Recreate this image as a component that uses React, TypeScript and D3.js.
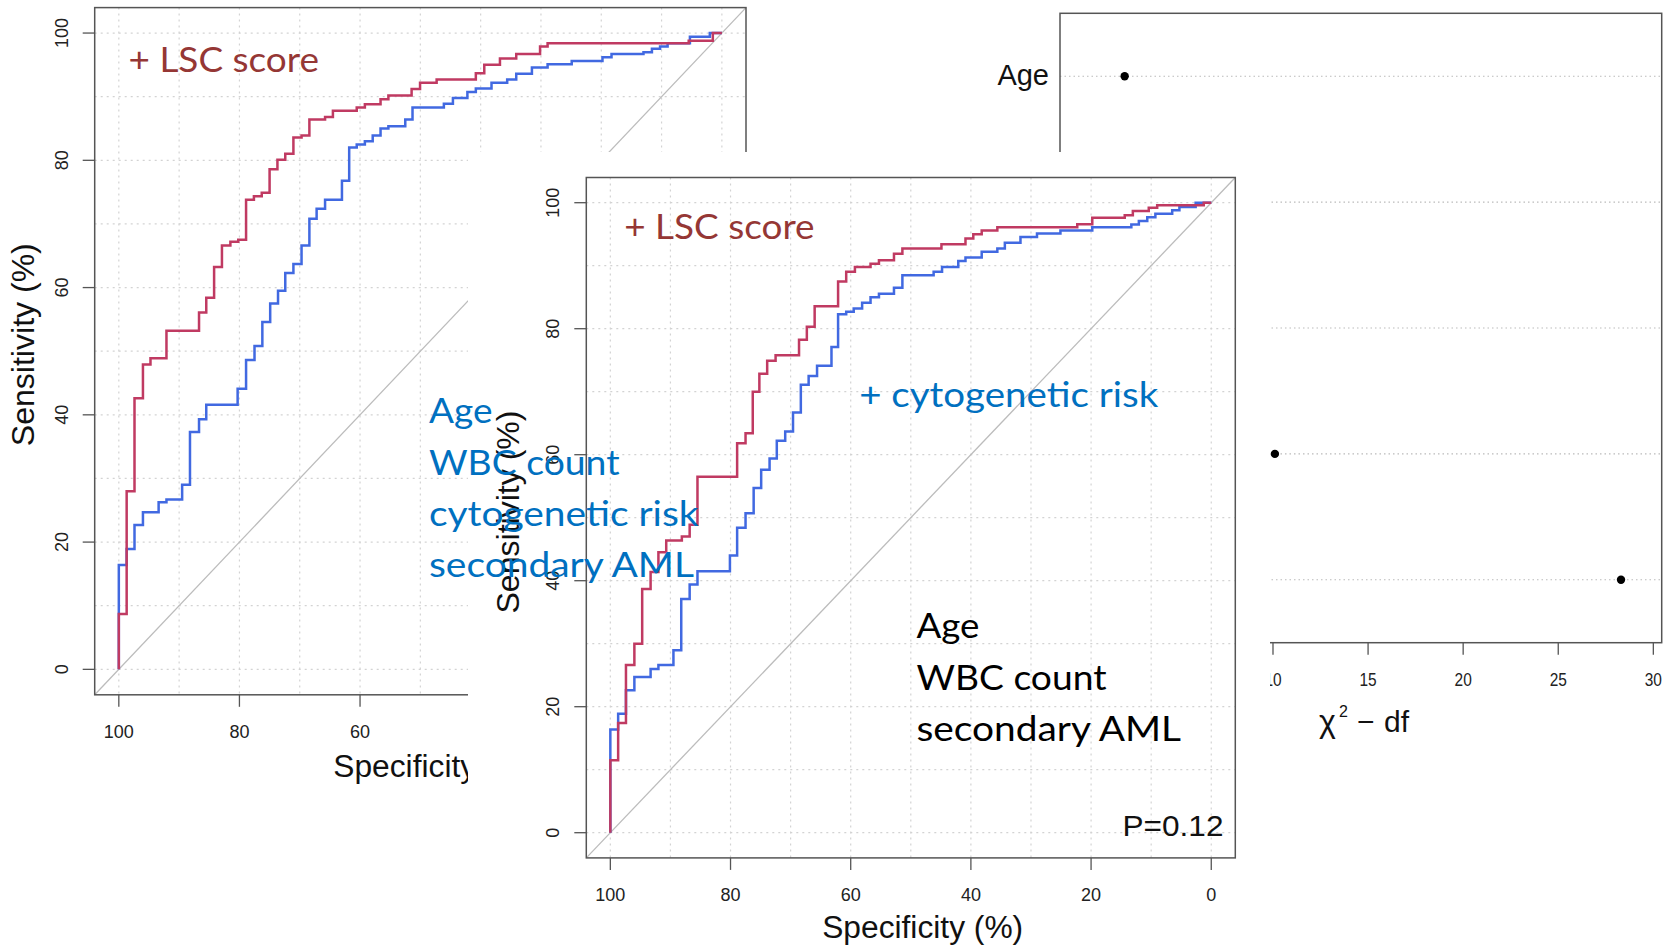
import React, { useEffect } from 'react';
import * as d3 from 'd3';

// ---------- data ----------
const specTicks = [100, 80, 60, 40, 20, 0];
const sensTicks = [0, 20, 40, 60, 80, 100];
const gridLevels = [0, 10, 20, 30, 40, 50, 60, 70, 80, 90, 100];

// Panel A: base model (Age, WBC count, cytogenetic risk, secondary AML) vs + LSC score
const aLscSpec = [100, 100, 98.7, 97.4, 96.0, 94.75, 92.1, 86.7, 85.5, 84.2, 82.9, 81.5, 80.2, 78.9, 77.6, 76.3, 75.0, 73.7, 72.4, 71.05, 69.7, 68.4, 65.8, 64.5, 60.55, 59.2, 56.6, 55.3, 51.45, 50.05, 47.3, 40.8, 39.4, 36.8, 34.1, 30.15, 28.9, 5.5, 1.5, 0];
const aLscSens = [0, 8.7, 28.0, 42.6, 47.9, 48.9, 53.2, 56.1, 58.4, 63.25, 66.6, 67.2, 67.5, 73.8, 74.35, 74.9, 78.6, 80.1, 81.05, 83.6, 83.9, 86.4, 86.8, 87.8, 88.3, 88.8, 89.6, 90.2, 91.2, 92.2, 92.7, 93.7, 95.0, 96.0, 96.7, 97.9, 98.4, 98.8, 100, 100];
const aBaseSpec = [100, 100, 98.7, 97.4, 96.0, 93.4, 92.1, 89.5, 88.2, 86.7, 85.5, 80.3, 78.9, 77.5, 76.2, 74.9, 73.6, 72.4, 71.05, 69.7, 68.4, 67.2, 65.8, 63.0, 61.8, 60.55, 59.2, 57.9, 56.6, 55.3, 52.5, 51.3, 46.1, 44.6, 42.2, 40.8, 38.2, 35.6, 34.1, 31.5, 28.9, 24.9, 19.8, 18.3, 13.0, 11.6, 10.25, 9.0, 5.3, 2.0, 0];
const aBaseSens = [0, 16.4, 18.9, 22.7, 24.7, 26.25, 26.7, 29.0, 37.3, 39.3, 41.6, 44.1, 48.6, 50.8, 54.6, 57.5, 59.5, 62.3, 63.7, 66.6, 70.8, 72.4, 73.8, 76.8, 82.0, 82.5, 83.0, 83.9, 85.0, 85.35, 86.4, 88.3, 88.9, 89.8, 90.75, 91.3, 92.2, 92.7, 93.6, 94.6, 95.1, 95.6, 96.2, 96.7, 97.0, 97.55, 97.9, 98.4, 99.4, 100, 100];

// Panel B: base model (Age, WBC count, secondary AML) + cytogenetic risk vs + LSC score
const bLscSpec = [100, 100, 98.7, 97.4, 96.0, 94.7, 93.3, 92.0, 90.7, 88.1, 86.8, 85.5, 78.9, 77.5, 76.3, 75.2, 73.9, 72.5, 68.6, 67.3, 66.0, 62.1, 60.75, 59.3, 56.7, 55.3, 52.8, 51.4, 44.9, 40.9, 39.6, 38.2, 35.6, 22.3, 19.8, 14.4, 13.05, 10.4, 9.0, 1.25, 0];
const bLscSens = [0, 11.5, 17.4, 26.6, 30.0, 38.7, 41.4, 44.5, 46.4, 47.0, 48.9, 56.5, 61.8, 63.4, 70.0, 72.85, 74.9, 75.8, 78.25, 80.3, 83.55, 87.5, 89.05, 89.8, 90.3, 90.85, 91.9, 92.75, 93.4, 94.3, 95.0, 95.6, 96.1, 96.56, 97.6, 98.0, 98.7, 99.2, 99.6, 100, 100];
const bCytoSpec = [100, 100, 98.7, 97.4, 96.0, 93.3, 92.0, 89.5, 88.2, 86.8, 85.5, 80.1, 78.9, 77.5, 76.15, 74.9, 73.5, 72.3, 70.9, 69.6, 68.3, 67.0, 65.6, 63.2, 62.1, 60.75, 59.5, 58.1, 56.7, 55.3, 52.8, 51.4, 46.2, 44.8, 42.1, 40.9, 38.2, 35.6, 34.35, 31.75, 29.0, 25.1, 19.8, 13.3, 12.05, 10.65, 9.3, 6.5, 5.3, 2.6, 0];
const bCytoSens = [0, 16.4, 18.9, 22.6, 24.7, 26.0, 26.6, 28.95, 37.1, 39.4, 41.5, 44.0, 48.4, 50.7, 54.7, 57.6, 59.4, 62.2, 63.7, 66.7, 71.1, 72.5, 74.1, 77.1, 82.3, 82.7, 83.2, 84.1, 85.0, 85.55, 86.5, 88.5, 89.05, 89.8, 90.75, 91.3, 92.2, 92.75, 93.65, 94.55, 95.1, 95.6, 96.1, 96.55, 97.1, 97.7, 98.25, 98.8, 99.3, 100, 100];

// Panel C: chi-square minus df dot chart (bottom row first)
const chiLabels = ['LSC score', 'cytogenetic risk', 'secondary AML', 'WBC count', 'Age'];
const chiValues: (number | null)[] = [28.3, 10.1, null, null, 2.2];
const chiTicks = [0, 5, 10, 15, 20, 25, 30];

// ---------- styles ----------
const RED = '#c03a62';
const BLUE = '#4169e1';
const FRAME = '#555';
const fontR = '"Liberation Sans", Arial, sans-serif';
const fontC = 'Lato, "Open Sans", sans-serif';

const pairs = (a: number[], b: number[]) => a.map((v, i) => [v, b[i]] as [number, number]);

function RocPanel(props: any) {
  const { xs, ys, red, blue, yTickX, xTickY, yTitleX, yTitleY, xTitleX, xTitleY, xTitle } = props;
  const [xl, xr] = xs.range();
  const [yb, yt] = ys.range();
  const line = d3.line<[number, number]>().x(d => xs(d[0])).y(d => ys(d[1])).curve(d3.curveStepAfter);
  return (
    <g>
      {gridLevels.map(v => (
        <line key={'gx' + v} x1={xs(v)} x2={xs(v)} y1={yt} y2={yb} stroke="#d3d3d3" strokeWidth={1.2} strokeDasharray="2,4" />
      ))}
      {gridLevels.map(v => (
        <line key={'gy' + v} x1={xl} x2={xr} y1={ys(v)} y2={ys(v)} stroke="#d3d3d3" strokeWidth={1.2} strokeDasharray="2,4" />
      ))}
      <line x1={xs(104)} y1={ys(-4)} x2={xs(-4)} y2={ys(104)} stroke="#bcbcbc" strokeWidth={1.3} />
      <path d={line(blue) || ''} fill="none" stroke={BLUE} strokeWidth={2.5} />
      <path d={line(red) || ''} fill="none" stroke={RED} strokeWidth={2.5} />
      <rect x={xl} y={yt} width={xr - xl} height={yb - yt} fill="none" stroke={FRAME} strokeWidth={1.5} />
      {sensTicks.map(v => (
        <g key={'yt' + v}>
          <line x1={xl} x2={xl - 12} y1={ys(v)} y2={ys(v)} stroke={FRAME} strokeWidth={1.3} />
          <text transform={`translate(${yTickX},${ys(v)}) rotate(-90)`} textAnchor="middle" fontFamily={fontR} fontSize={18} fill="#222">{v}</text>
        </g>
      ))}
      {specTicks.map(v => (
        <g key={'xt' + v}>
          <line x1={xs(v)} x2={xs(v)} y1={yb} y2={yb + 12} stroke={FRAME} strokeWidth={1.3} />
          <text x={xs(v)} y={xTickY} textAnchor="middle" fontFamily={fontR} fontSize={18} fill="#222">{v}</text>
        </g>
      ))}
      <text transform={`translate(${yTitleX},${yTitleY}) rotate(-90)`} textAnchor="middle" fontFamily={fontR} fontSize={31} fill="#111" textLength={203} lengthAdjust="spacingAndGlyphs">Sensitivity (%)</text>
      <text x={xTitleX} y={xTitleY} textAnchor="middle" fontFamily={fontR} fontSize={31} fill="#111" textLength={201} lengthAdjust="spacingAndGlyphs">{xTitle}</text>
    </g>
  );
}

function CText({ x, y, w, fill, children }: any) {
  return (
    <text x={x} y={y} fontFamily={fontC} fontSize={35} fill={fill} textLength={w} lengthAdjust="spacingAndGlyphs">{children}</text>
  );
}

export default function App() {
  useEffect(() => {
    document.body.style.margin = '0';
  }, []);

  const xA = d3.scaleLinear().domain([104, -4]).range([94.7, 746]);
  const yA = d3.scaleLinear().domain([-4, 104]).range([694.8, 7.6]);
  const xB = d3.scaleLinear().domain([104, -4]).range([586.3, 1235.3]);
  const yB = d3.scaleLinear().domain([-4, 104]).range([857.9, 177.5]);
  const xC = d3.scaleLinear().domain([-1.2, 30.44]).range([1060, 1661.7]);
  const yC = d3.scaleLinear().domain([0.5, 5.5]).range([642.7, 13.3]);

  const [cxl, cxr] = xC.range();
  const [cyb, cyt] = yC.range();

  return (
    <svg width={1673} height={948} style={{ position: 'absolute', left: 0, top: 0, background: '#fff' }}>
      <rect x={0} y={0} width={1673} height={948} fill="#fff" />
      {/* Panel A */}
      <RocPanel xs={xA} ys={yA} red={pairs(aLscSpec, aLscSens)} blue={pairs(aBaseSpec, aBaseSens)}
        yTickX={67.5} xTickY={738.3} yTitleX={34} yTitleY={344.7} xTitleX={433.8} xTitleY={776.7} xTitle="Specificity (%)" />
      <CText x={128.5} y={72.3} w={190.5} fill="#953735">+ LSC score</CText>

      {/* Panel C */}
      <g>
        {chiLabels.map((lab, i) => (
          <g key={lab}>
            <line x1={cxl} x2={cxr} y1={yC(i + 1)} y2={yC(i + 1)} stroke="#bbb" strokeWidth={1.1} strokeDasharray="1.5,3" />
            <text x={cxl - 11} y={yC(i + 1) + 9} textAnchor="end" fontFamily={fontR} fontSize={29} fill="#111">{lab}</text>
            {chiValues[i] !== null && <circle cx={xC(chiValues[i] as number)} cy={yC(i + 1)} r={4.2} fill="#000" />}
          </g>
        ))}
        <rect x={cxl} y={cyt} width={cxr - cxl} height={cyb - cyt} fill="none" stroke={FRAME} strokeWidth={1.5} />
        {chiTicks.map(v => (
          <g key={'ct' + v}>
            <line x1={xC(v)} x2={xC(v)} y1={cyb} y2={cyb + 12} stroke={FRAME} strokeWidth={1.3} />
            <text x={xC(v)} y={686} textAnchor="middle" fontFamily={fontR} fontSize={19} fill="#222" textLength={String(v).length * 8.6} lengthAdjust="spacingAndGlyphs">{v}</text>
          </g>
        ))}
        <text x={1319} y={732} fontFamily={fontR} fontSize={32} fill="#111">χ</text>
        <text x={1339} y={717} fontFamily={fontR} fontSize={16} fill="#111">2</text>
        <text x={1357} y={732} fontFamily={fontR} fontSize={30} fill="#111">−</text>
        <text x={1384} y={732} fontFamily={fontR} fontSize={30} fill="#111">df</text>
      </g>

      {/* white backing of the overlaid panel */}
      <rect x={468} y={152} width={802} height={796} fill="#fff" />

      {/* Panel B */}
      <RocPanel xs={xB} ys={yB} red={pairs(bLscSpec, bLscSens)} blue={pairs(bCytoSpec, bCytoSens)}
        yTickX={559} xTickY={900.7} yTitleX={518.5} yTitleY={512} xTitleX={922.7} xTitleY={938} xTitle="Specificity (%)" />
      <CText x={624.2} y={239.3} w={190.4} fill="#953735">+ LSC score</CText>
      <CText x={859.2} y={407.3} w={299} fill="#0070c0">+ cytogenetic risk</CText>
      <CText x={916.5} y={637.7} w={63} fill="#000">Age</CText>
      <CText x={916.5} y={690} w={190} fill="#000">WBC count</CText>
      <CText x={916.5} y={741} w={264.5} fill="#000">secondary AML</CText>
      <text x={1122.5} y={835.7} fontFamily={fontR} fontSize={30} fill="#111" textLength={101} lengthAdjust="spacingAndGlyphs">P=0.12</text>

      {/* overlay labels for panel A model */}
      <CText x={429} y={423} w={63.5} fill="#0070c0">Age</CText>
      <CText x={429} y={475} w={190.5} fill="#0070c0">WBC count</CText>
      <CText x={429} y={526} w={269.5} fill="#0070c0">cytogenetic risk</CText>
      <CText x={429} y={576.7} w={265} fill="#0070c0">secondary AML</CText>
    </svg>
  );
}
